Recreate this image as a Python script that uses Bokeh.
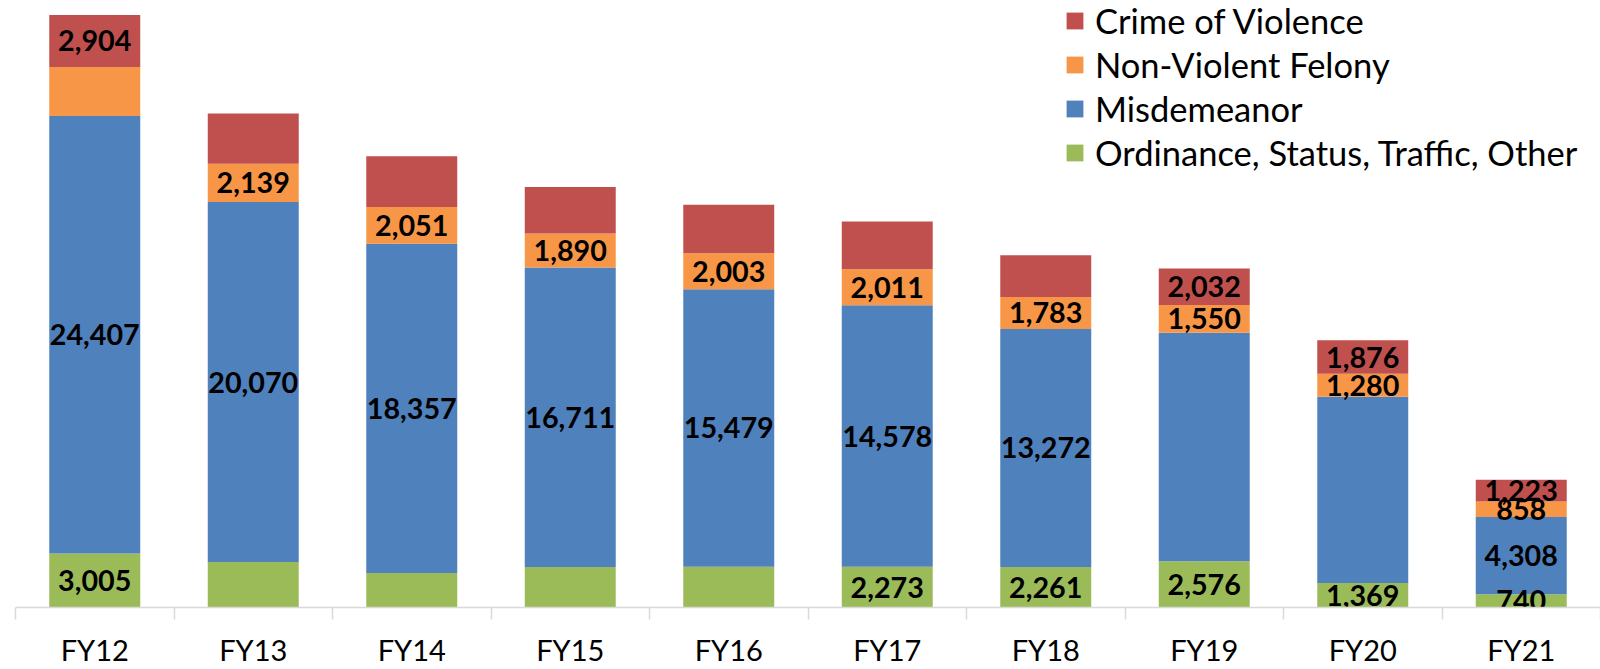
import numpy as np
from bokeh.plotting import figure
from bokeh.models import ColumnDataSource, Range1d, FixedTicker, Legend, LegendItem
from bokeh.core.properties import value
from bokeh.embed import file_html
from bokeh.resources import INLINE

categories = ["FY12", "FY13", "FY14", "FY15", "FY16", "FY17", "FY18", "FY19", "FY20", "FY21"]
crime = [2904, 2800, 2826, 2590, 2700, 2663, 2330, 2032, 1876, 1223]
nonviolent = [2730, 2139, 2051, 1890, 2003, 2011, 1783, 1550, 1280, 858]
misdemeanor = [24407, 20070, 18357, 16711, 15479, 14578, 13272, 12750, 10380, 4308]
ordinance = [3005, 2540, 1925, 2255, 2272, 2273, 2261, 2576, 1369, 740]

show_crime = [True, False, False, False, False, False, False, True, True, True]
show_nonviolent = [False, True, True, True, True, True, True, True, True, True]
show_misdemeanor = [True, True, True, True, True, True, True, False, False, True]
show_ordinance = [True, False, False, False, False, True, True, True, True, True]

series_names = ["Ordinance, Status, Traffic, Other", "Misdemeanor", "Non-Violent Felony", "Crime of Violence"]
colors = ["#9BBB59", "#4F81BD", "#F79646", "#C0504D"]

x = np.arange(len(categories)) + 0.5
source = ColumnDataSource(dict(x=x, ordinance=ordinance, misdemeanor=misdemeanor,
                               nonviolent=nonviolent, crime=crime))

p = figure(width=1600, height=669, output_backend="svg", toolbar_location=None,
           x_range=Range1d(0, len(categories)), y_range=Range1d(0, 33850),
           min_border_left=15, min_border_right=0, min_border_top=0, min_border_bottom=62)

rs = p.vbar_stack(["ordinance", "misdemeanor", "nonviolent", "crime"], x="x", width=0.574,
                  fill_color=colors, line_color=None, source=source)

# data labels
lx, ly, lt = [], [], []
bottom = np.zeros(len(categories))
for vals, shows in [(ordinance, show_ordinance), (misdemeanor, show_misdemeanor),
                    (nonviolent, show_nonviolent), (crime, show_crime)]:
    vals = np.array(vals, dtype=float)
    for i in range(len(categories)):
        if shows[i]:
            lx.append(x[i])
            ly.append(bottom[i] + vals[i] / 2)
            lt.append(f"{int(vals[i]):,}")
    bottom += vals
lab = ColumnDataSource(dict(x=lx, y=ly, text=lt))
p.text(x="x", y="y", text="text", source=lab, text_font=value("Lato"), text_font_style="bold",
       text_font_size="28.7px", text_align="center", text_baseline="middle", text_color="black")

legend = Legend(items=[LegendItem(label=series_names[3], renderers=[rs[3]]),
                       LegendItem(label=series_names[2], renderers=[rs[2]]),
                       LegendItem(label=series_names[1], renderers=[rs[1]]),
                       LegendItem(label=series_names[0], renderers=[rs[0]])],
                location=(1049, 434), glyph_width=21, glyph_height=21,
                label_text_font="Lato", label_text_font_size="34.5px", label_text_color="black",
                padding=0, margin=0, spacing=3, label_standoff=10,
                border_line_color=None, background_fill_alpha=0)
p.add_layout(legend)

ax = p.xaxis[0]
ax.ticker = FixedTicker(ticks=list(x), minor_ticks=list(range(len(categories) + 1)))
ax.major_label_overrides = {float(xi): c for xi, c in zip(x, categories)}
ax.major_tick_out = 0
ax.major_tick_in = 0
ax.minor_tick_out = 12
ax.minor_tick_in = 0
ax.minor_tick_line_color = "#D9D9D9"
ax.minor_tick_line_width = 1.5
ax.axis_line_color = "#D9D9D9"
ax.axis_line_width = 1.5
ax.major_label_text_font = "Lato"
ax.major_label_text_font_size = "29px"
ax.major_label_text_color = "black"
ax.major_label_standoff = 12
p.yaxis.visible = False
p.xgrid.visible = False
p.ygrid.visible = False
p.outline_line_color = None

open("out.html", "w").write(file_html(p, INLINE))
